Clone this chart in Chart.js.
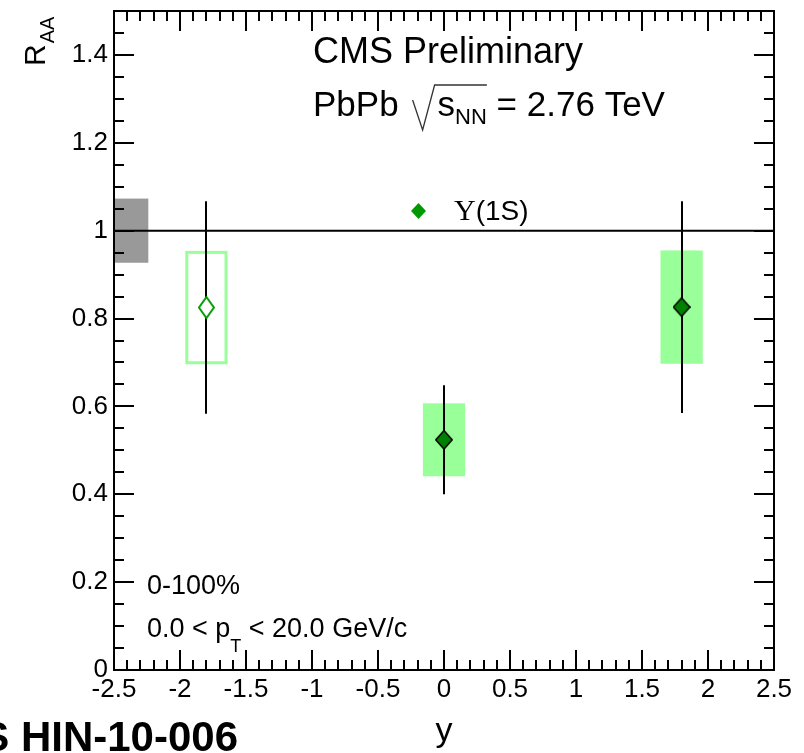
<!DOCTYPE html>
<html>
<head>
<meta charset="utf-8">
<title>Upsilon(1S) RAA vs rapidity</title>
<script src="https://cdn.jsdelivr.net/npm/chart.js@4.4.1/dist/chart.umd.min.js"></script>
<style>
  html, body { margin: 0; padding: 0; background: #fff; }
  canvas { display: block; }
</style>
</head>
<body>
<canvas id="raa-chart" width="804" height="753"></canvas>
<script>
// ── Data ──

const RAPIDITY  = [-1.8, 0.0, 1.8];
const RAA       = [0.825, 0.524, 0.826];
const STAT_ERR  = [0.242, 0.124, 0.241];
const SYST_ERR  = [0.129, 0.083, 0.129];
const REFLECTED = [true, false, false];     // y < 0 bin drawn with open marker / hollow box
const SYST_HALF_WIDTH = 0.16;

const GLOBAL_SYST  = 0.073;                 // normalisation uncertainty around unity
const GLOBAL_WIDTH = 0.26;

const X_RANGE = [-2.5, 2.5];
const Y_RANGE = [0, 1.5];
const X_TICKS = [-2.5, -2, -1.5, -1, -0.5, 0, 0.5, 1, 1.5, 2, 2.5];
const Y_TICKS = [0, 0.2, 0.4, 0.6, 0.8, 1, 1.2, 1.4];
const X_MINOR = 0.1;
const Y_MINOR = 0.05;

const SANS  = "'Liberation Sans', Arial, sans-serif";
const SERIF = "'Liberation Serif', 'Times New Roman', serif";

const GREEN_DARK  = "#008000";
const GREEN_LIGHT = "#99ff99";

// ── Markers ──

function diamondImage(w, h, fill, stroke, lw) {
    const c = document.createElement("canvas");
    c.width = w;
    c.height = h;
    const g = c.getContext("2d");
    g.beginPath();
    g.moveTo(w / 2, lw / 2);
    g.lineTo(w - lw / 2, h / 2);
    g.lineTo(w / 2, h - lw / 2);
    g.lineTo(lw / 2, h / 2);
    g.closePath();
    g.fillStyle = fill;
    g.fill();
    if (lw > 0) {
        g.lineWidth = lw;
        g.strokeStyle = stroke;
        g.stroke();
    }
    return c;
}

const filledMarker = diamondImage(18, 20, GREEN_DARK, "#000000", 1.5);
const openMarker   = diamondImage(17, 23, "#ffffff", "#009900", 2);

function points(reflected) {
    return RAPIDITY.map((x, i) => ({ x: x, y: RAA[i], i: i }))
        .filter(p => REFLECTED[p.i] === reflected);
}

// ── Error bars and boxes ──

const uncertaintyPlugin = {
    id: "uncertainties",
    beforeDatasetsDraw(chart) {
        const { ctx } = chart;
        const xs = chart.scales.x, ys = chart.scales.y;
        ctx.save();

        // global uncertainty box at unity
        const gl = xs.getPixelForValue(X_RANGE[0]);
        const gr = xs.getPixelForValue(X_RANGE[0] + GLOBAL_WIDTH);
        const gt = ys.getPixelForValue(1 + GLOBAL_SYST);
        const gb = ys.getPixelForValue(1 - GLOBAL_SYST);
        ctx.fillStyle = "#999999";
        ctx.fillRect(gl, gt, gr - gl, gb - gt);

        // systematic boxes
        RAPIDITY.forEach((x, i) => {
            const l = xs.getPixelForValue(x - SYST_HALF_WIDTH);
            const r = xs.getPixelForValue(x + SYST_HALF_WIDTH);
            const t = ys.getPixelForValue(RAA[i] + SYST_ERR[i]);
            const b = ys.getPixelForValue(RAA[i] - SYST_ERR[i]);
            if (REFLECTED[i]) {
                ctx.strokeStyle = GREEN_LIGHT;
                ctx.lineWidth = 3;
                ctx.strokeRect(l + 1.5, t + 1.5, r - l - 3, b - t - 3);
            } else {
                ctx.fillStyle = GREEN_LIGHT;
                ctx.fillRect(l, t, r - l, b - t);
            }
        });

        // statistical error bars
        ctx.strokeStyle = "#000000";
        ctx.lineWidth = 2;
        RAPIDITY.forEach((x, i) => {
            const px = Math.round(xs.getPixelForValue(x));
            ctx.beginPath();
            ctx.moveTo(px, ys.getPixelForValue(RAA[i] + STAT_ERR[i]));
            ctx.lineTo(px, ys.getPixelForValue(RAA[i] - STAT_ERR[i]));
            ctx.stroke();
        });
        ctx.restore();
    }
};

// ── Frame, ticks and annotations ──

function drawTicks(ctx, area, xs, ys) {
    const major = 20, minor = 10;
    ctx.strokeStyle = "#000000";
    ctx.lineWidth = 2;
    ctx.beginPath();

    const nx = Math.round((X_RANGE[1] - X_RANGE[0]) / X_MINOR);
    for (let k = 0; k <= nx; k++) {
        const v = X_RANGE[0] + k * X_MINOR;
        const isMajor = X_TICKS.some(t => Math.abs(t - v) < 1e-6);
        const len = isMajor ? major : minor;
        const px = Math.round(xs.getPixelForValue(v));
        ctx.moveTo(px, area.bottom); ctx.lineTo(px, area.bottom - len);
        ctx.moveTo(px, area.top);    ctx.lineTo(px, area.top + len);
    }

    const ny = Math.round((Y_RANGE[1] - Y_RANGE[0]) / Y_MINOR);
    for (let k = 0; k <= ny; k++) {
        const v = Y_RANGE[0] + k * Y_MINOR;
        const isMajor = Y_TICKS.some(t => Math.abs(t - v) < 1e-6);
        const len = isMajor ? major : minor;
        const py = Math.round(ys.getPixelForValue(v));
        ctx.moveTo(area.left, py);  ctx.lineTo(area.left + len, py);
        ctx.moveTo(area.right, py); ctx.lineTo(area.right - len, py);
    }
    ctx.stroke();

    ctx.strokeRect(area.left, area.top, area.right - area.left, area.bottom - area.top);
}

// draws a run of text pieces left to right; each piece may be shifted (subscripts)
function drawRun(ctx, x, y, parts) {
    parts.forEach(p => {
        if (p.gap) { x += p.gap; return; }
        ctx.font = p.font;
        ctx.fillText(p.text, x, y + (p.dy || 0));
        x += ctx.measureText(p.text).width;
    });
    return x;
}

function drawAnnotations(ctx) {
    ctx.fillStyle = "#000000";
    ctx.textAlign = "left";
    ctx.textBaseline = "alphabetic";

    ctx.font = "36px " + SANS;
    ctx.fillText("CMS Preliminary", 313, 63);

    // PbPb sqrt(s_NN) = 2.76 TeV
    let x = drawRun(ctx, 313, 116, [{ text: "PbPb", font: "35px " + SANS }]);
    const rx = x + 14;
    const sx = rx + 25;
    const endX = drawRun(ctx, sx, 116, [
        { text: "s", font: "35px " + SANS },
        { text: "NN", font: "22px " + SANS, dy: 8 },
    ]);
    ctx.strokeStyle = "#333333";
    ctx.lineWidth = 1.3;
    ctx.beginPath();
    ctx.moveTo(rx, 100);
    ctx.lineTo(rx + 10, 130);
    ctx.lineTo(rx + 22, 85);
    ctx.lineTo(endX, 85);
    ctx.stroke();
    drawRun(ctx, endX, 116, [{ text: " = 2.76 TeV", font: "35px " + SANS }]);

    // legend entry
    const lg = diamondImage(15, 16, "#009900", "#009900", 0);
    ctx.drawImage(lg, 411, 203);
    drawRun(ctx, 454, 220, [
        { text: "\u03A5", font: "30px " + SERIF },
        { text: "(1S)", font: "28px " + SANS },
    ]);

    ctx.font = "27px " + SANS;
    ctx.fillText("0-100%", 147, 594);
    drawRun(ctx, 147, 637, [
        { text: "0.0 < p", font: "27px " + SANS },
        { text: "T", font: "18px " + SANS, dy: 15 },
        { text: " < 20.0 GeV/c", font: "27px " + SANS },
    ]);

    // axis titles
    ctx.font = "34px " + SANS;
    ctx.textAlign = "center";
    ctx.fillText("y", 444, 741);

    ctx.save();
    ctx.translate(45, 66);
    ctx.rotate(-Math.PI / 2);
    ctx.textAlign = "left";
    drawRun(ctx, 0, 0, [
        { text: "R", font: "30px " + SANS },
        { gap: 1 },
        { text: "AA", font: "20px " + SANS, dy: 9 },
    ]);
    ctx.restore();

    ctx.font = "bold 42px " + SANS;
    ctx.textAlign = "right";
    ctx.fillText("CMS HIN-10-006", 238, 751);
}

const framePlugin = {
    id: "rootFrame",
    afterDraw(chart) {
        const { ctx, chartArea } = chart;
        ctx.save();
        drawTicks(ctx, chartArea, chart.scales.x, chart.scales.y);
        drawAnnotations(ctx);
        ctx.restore();
    }
};

// ── Chart ──

new Chart(document.getElementById("raa-chart"), {
    type: "scatter",
    data: {
        datasets: [
            {
                label: "unity",
                data: X_RANGE.map(v => ({ x: v, y: 1 })),
                showLine: true,
                borderColor: "#000000",
                borderWidth: 2,
                pointRadius: 0,
            },
            {
                label: "\u03A5(1S) reflected",
                data: points(true),
                pointStyle: openMarker,
                pointRadius: 10,
            },
            {
                label: "\u03A5(1S)",
                data: points(false),
                pointStyle: filledMarker,
                pointRadius: 10,
            },
        ],
    },
    options: {
        responsive: false,
        animation: false,
        events: [],
        layout: { padding: { top: 8, right: 30, bottom: 0, left: 0 } },
        plugins: { legend: { display: false }, tooltip: { enabled: false } },
        scales: {
            x: {
                type: "linear",
                min: X_RANGE[0],
                max: X_RANGE[1],
                afterBuildTicks: s => { s.ticks = X_TICKS.map(v => ({ value: v })); },
                afterFit: s => { s.height = 83; s.paddingLeft = 0; s.paddingRight = 0; },
                grid: { display: false, drawTicks: false },
                border: { display: false },
                ticks: {
                    autoSkip: false,
                    maxRotation: 0,
                    padding: 4,
                    color: "#000000",
                    font: { family: SANS, size: 26 },
                    callback: v => String(v),
                },
            },
            y: {
                type: "linear",
                min: Y_RANGE[0],
                max: Y_RANGE[1],
                afterBuildTicks: s => { s.ticks = Y_TICKS.map(v => ({ value: v })); },
                afterFit: s => { s.width = 114; s.paddingTop = 0; s.paddingBottom = 0; },
                grid: { display: false, drawTicks: false },
                border: { display: false },
                ticks: {
                    autoSkip: false,
                    padding: 6,
                    color: "#000000",
                    font: { family: SANS, size: 26 },
                    callback: v => String(v),
                },
            },
        },
    },
    plugins: [uncertaintyPlugin, framePlugin],
});
</script>
</body>
</html>
